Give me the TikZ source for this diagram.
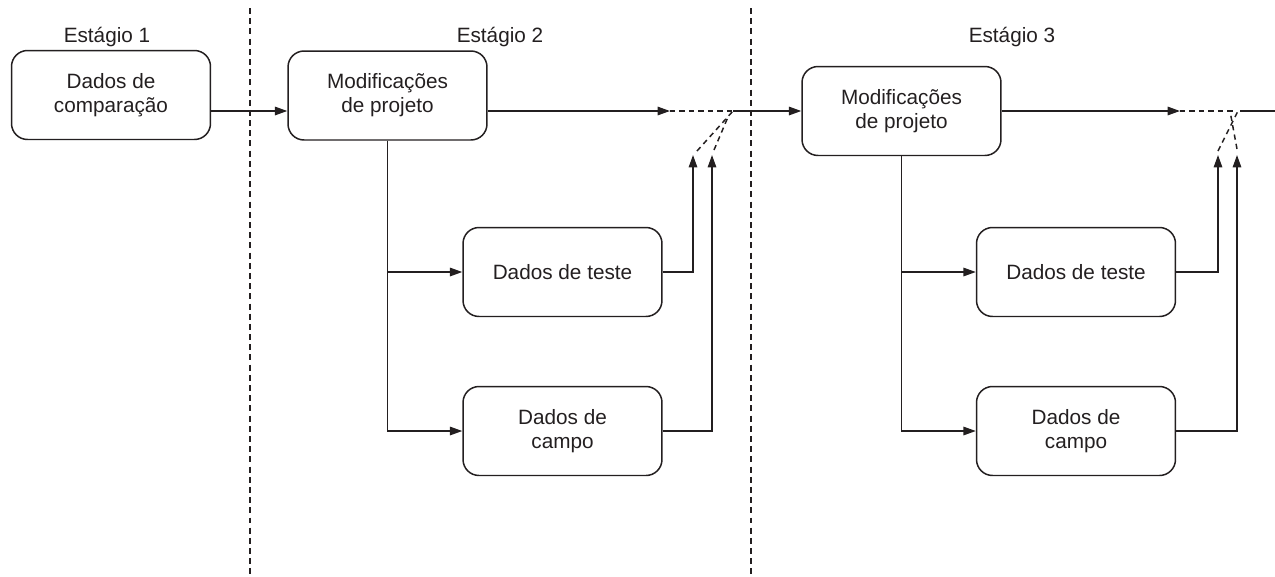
\documentclass[tikz,border=0pt]{standalone}
\usepackage{fontspec}
\setmainfont{Liberation Sans}
\usepackage{tikz}
\usetikzlibrary{arrows.meta,calc}
\definecolor{ink}{HTML}{231F20}

\begin{document}
\begin{tikzpicture}[x=0.02cm,y=-0.02cm,color=ink,line width=0.85pt,
        box/.style={draw,rounded corners=0.32cm,minimum width=3.98cm,minimum height=1.78cm,align=center,font=\fontsize{11.8}{13.6}\selectfont},
        stage/.style={anchor=base,font=\fontsize{11.8}{13.6}\selectfont},
        arr/.style={-{Triangle[length=7pt,width=4.8pt]}},
        sep/.style={dash pattern=on 3.4pt off 2.4pt},
        link/.style={dash pattern=on 3pt off 2.4pt}]
                % Fix the page size
                \useasboundingbox (0,0) rectangle (1275,576);
                % Draw the stage separators
                \draw[sep] (250,8) -- (250,576);
                \draw[sep] (751,8) -- (751,576);
                % Stage titles
                \node[stage] (st1) at (107,42) {Estágio 1};
                \node[stage] (st2) at (500,42) {Estágio 2};
                \node[stage] (st3) at (1012,42) {Estágio 3};
                % Draw the boxes
                \node[box] (cmp) at (111,95) {Dados de\\comparação};
                \node[box] (mod2) at (387.5,95.5) {Modificações\\de projeto};
                \node[box] (tst2) at (562.5,272) {Dados de teste};
                \node[box] (cpo2) at (562.5,431) {Dados de\\campo};
                \node[box] (mod3) at (901.5,111) {Modificações\\de projeto};
                \node[box] (tst3) at (1076,272) {Dados de teste};
                \node[box] (cpo3) at (1076,431) {Dados de\\campo};
                % Points where the feedback meets the main line
                \coordinate (h2) at (670,111);
                \coordinate (m2) at (733,111);
                \coordinate (a2) at (693,155);
                \coordinate (b2) at (712,155);
                \coordinate (h3) at (1180,111);
                \coordinate (m3) at (1234,111);
                \coordinate (a3) at (1218,155);
                \coordinate (b3) at (1237,155);
                \coordinate (out) at (1275,111);
                % Stage 1 to stage 2
                \draw[arr] (cmp.east |- m2) -- (mod2.west |- m2);
                % Stage 2
                \draw[arr] (mod2.east |- m2) -- (h2);
                \draw[link] (h2) -- (m2);
                \draw[arr] (m2) -- (mod3.west);
                \draw[arr] (mod2.south) |- (tst2.west);
                \draw[arr] (mod2.south) |- (cpo2.west);
                \draw[arr] (tst2.east) -| (a2);
                \draw[arr] (cpo2.east) -| (b2);
                \draw[link] ($(a2)+(4,-4)$) -- (m2);
                \draw[link] ($(b2)+(2,-5)$) -- ($(m2)+(-5,6)$);
                % Stage 3
                \draw[arr] (mod3.east) -- (h3);
                \draw[link] (h3) -- (m3);
                \draw (1240,111) -- (out);
                \draw[arr] (mod3.south) |- (tst3.west);
                \draw[arr] (mod3.south) |- (cpo3.west);
                \draw[arr] (tst3.east) -| (a3);
                \draw[arr] (cpo3.east) -| (b3);
                \draw[link] ($(a3)+(0,-4)$) -- (1238,111);
                \draw[link] ($(b3)+(0,-6)$) -- (1230,111);
            \end{tikzpicture}
\end{document}
